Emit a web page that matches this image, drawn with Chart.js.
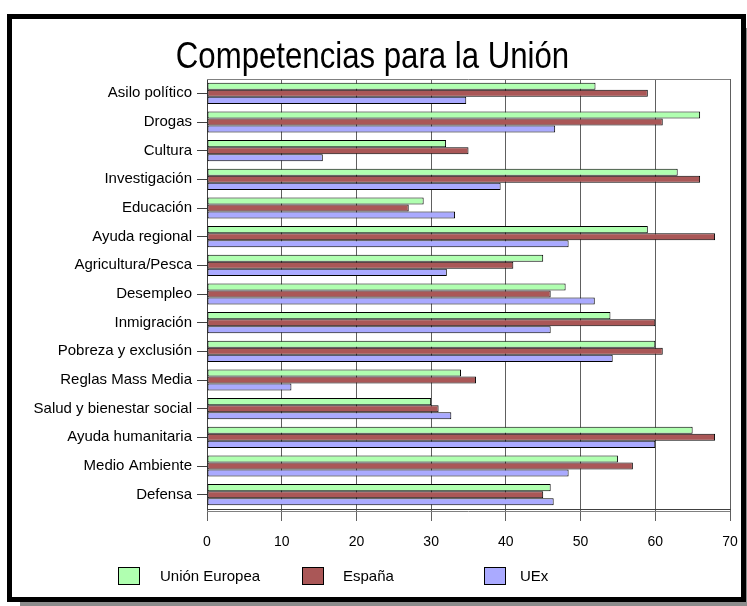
<!DOCTYPE html>
<html>
<head>
<meta charset="utf-8">
<script src="https://cdn.jsdelivr.net/npm/chart.js@4.4.0/dist/chart.umd.min.js"></script>
<style>
    html, body { margin: 0; padding: 0; background: #fff; }
    body { width: 747px; height: 606px; position: relative; overflow: hidden; font-family: 'Liberation Sans', Arial, sans-serif; }
    #frame { position: absolute; left: 7px; top: 14px; width: 739px; height: 588px; box-sizing: border-box; border: 5px solid #000; box-shadow: 13px 14px 0 #8c8c8c; background: #fff; }
    #chart { position: absolute; left: 0; top: 0; }
    .legend-box { position: absolute; top: 567px; width: 22px; height: 18px; box-sizing: border-box; border: 1px solid #000; }
    .legend-text { position: absolute; top: 567px; height: 18px; line-height: 18px; font-size: 15px; color: #000; white-space: nowrap; }
</style>
</head>
<body>
<div id="frame"></div>
<canvas id="chart" width="747" height="606"></canvas>
<div id="legend"></div>
<script>
// Chart data
const chartTitle = 'Competencias para la Unión';
const categories = [
    'Asilo político', 'Drogas', 'Cultura', 'Investigación', 'Educación',
    'Ayuda regional', 'Agricultura/Pesca', 'Desempleo', 'Inmigración',
    'Pobreza y exclusión', 'Reglas Mass Media', 'Salud y bienestar social',
    'Ayuda humanitaria', 'Medio Ambiente', 'Defensa'
];
const unionEuropea = [52, 66, 32, 63, 29, 59, 45, 48, 54, 60, 34, 30, 65, 55, 46];
const espana = [59, 61, 35, 66, 27, 68, 41, 46, 60, 61, 36, 31, 68, 57, 45];
const uex = [34.7, 46.6, 15.5, 39.3, 33.2, 48.4, 32.1, 51.9, 46.0, 54.3, 11.3, 32.7, 60, 48.4, 46.4];
const seriesNames = ['Unión Europea', 'España', 'UEx'];
const seriesColors = ['#b0ffb0', '#aa5757', '#aaaaff'];
const xTicks = [0, 10, 20, 30, 40, 50, 60, 70];

const fontFamily = '"Liberation Sans", Arial, sans-serif';
Chart.defaults.font.family = fontFamily;
Chart.defaults.color = '#000';

// Title drawn a little condensed, like the original picture
const titlePlugin = {
    id: 'scaledTitle',
    afterDraw(chart) {
        const ctx = chart.ctx;
        ctx.save();
        ctx.font = '36px ' + fontFamily;
        ctx.fillStyle = '#000';
        ctx.textAlign = 'center';
        ctx.textBaseline = 'alphabetic';
        ctx.translate(372.5, 68);
        ctx.scale(0.866, 1);
        ctx.fillText(chartTitle, 0, 0);
        ctx.restore();
    }
};

// Grey line along the top of the plot area
const plotFrame = {
    id: 'plotFrame',
    beforeDatasetsDraw(chart) {
        const ctx = chart.ctx;
        const a = chart.chartArea;
        ctx.save();
        ctx.strokeStyle = '#808080';
        ctx.lineWidth = 1;
        ctx.beginPath();
        ctx.moveTo(a.left, a.top + 0.5);
        ctx.lineTo(a.right, a.top + 0.5);
        ctx.moveTo(a.left, a.bottom + 2.5);
        ctx.lineTo(a.right, a.bottom + 2.5);
        ctx.stroke();
        ctx.restore();
    }
};

const seriesValues = [unionEuropea, espana, uex];
const datasets = seriesNames.map((name, i) => ({
    label: name,
    data: seriesValues[i],
    backgroundColor: seriesColors[i],
    borderColor: '#000',
    borderWidth: 1,
    borderSkipped: false,
    barPercentage: 1,
    categoryPercentage: 0.74
}));

const ctx = document.getElementById('chart').getContext('2d');
new Chart(ctx, {
    type: 'bar',
    data: { labels: categories, datasets: datasets },
    options: {
        indexAxis: 'y',
        responsive: false,
        animation: false,
        layout: { padding: { left: 15, right: 17, top: 79, bottom: 52 } },
        plugins: {
            legend: { display: false },
            tooltip: { enabled: false },
            title: { display: false }
        },
        scales: {
            x: {
                min: 0,
                max: 70,
                afterBuildTicks: scale => { scale.ticks = xTicks.map(v => ({ value: v })); },
                ticks: { font: { size: 14 }, color: '#000', padding: 13 },
                grid: { color: '#606060', tickLength: 12 },
                border: { color: '#404040' },
                afterFit: scale => {
                    scale.height = 45;
                    scale.paddingLeft = 0;
                    scale.paddingRight = 0;
                }
            },
            y: {
                ticks: { font: { size: 15 }, color: '#000', padding: 5 },
                grid: { drawOnChartArea: false, offset: false, tickLength: 10, color: '#404040' },
                border: { color: '#404040' },
                afterFit: scale => { scale.width = 192; }
            }
        }
    },
    plugins: [titlePlugin, plotFrame]
});

// Legend below the chart
const legendBoxX = [118, 302, 484];
const legendTextX = [160, 343, 520];
const legend = document.getElementById('legend');
seriesNames.forEach((name, i) => {
    const box = document.createElement('div');
    box.className = 'legend-box';
    box.style.left = legendBoxX[i] + 'px';
    box.style.background = seriesColors[i];
    legend.appendChild(box);
    const text = document.createElement('div');
    text.className = 'legend-text';
    text.style.left = legendTextX[i] + 'px';
    text.textContent = name;
    legend.appendChild(text);
});
</script>
</body>
</html>
